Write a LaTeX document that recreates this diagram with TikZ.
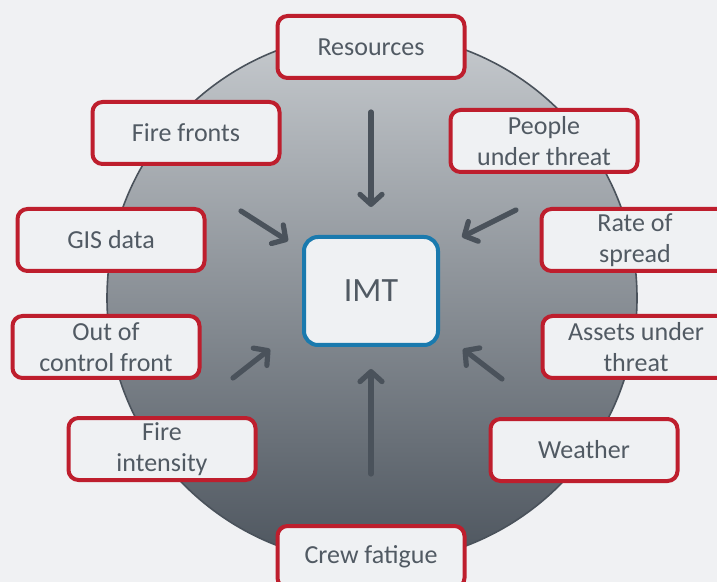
\documentclass[tikz,border=0pt]{standalone}
\usepackage{fontspec}
\setmainfont{Carlito}
\usepackage{tikz}
\usetikzlibrary{positioning}
\usetikzlibrary{arrows.meta}
\usetikzlibrary{calc}

\definecolor{pagegrey}{HTML}{F0F1F3}
\definecolor{boxfill}{HTML}{EFF1F3}
\definecolor{boxred}{HTML}{BE1E2D}
\definecolor{imtblue}{HTML}{1A7AAE}
\definecolor{textgrey}{HTML}{515A63}
\definecolor{arrowgrey}{HTML}{4A525B}
\definecolor{discTop}{HTML}{C6CACE}
\definecolor{discBottom}{HTML}{4D555E}

\tikzset{
  factor/.style={draw=boxred, line width=2pt, fill=boxfill, rounded corners=5pt,
    minimum width=93.5pt, minimum height=31pt, align=center, text=textgrey,
    font=\fontsize{13}{15.5}\selectfont, inner sep=1pt},
  imt/.style={draw=imtblue, line width=2pt, fill=boxfill, rounded corners=7pt,
    minimum width=67pt, minimum height=54pt, text=textgrey,
    font=\fontsize{17}{20}\selectfont},
  flow/.style={draw=arrowgrey, line width=2.6pt, line cap=round,
    -{Straight Barb[length=5pt,width=11pt,round]}}
}

\begin{document}
\begin{tikzpicture}[x=0.5pt, y=-0.5pt]
                  \useasboundingbox (0,0) rectangle (717,582);
                  \fill[pagegrey] (0,0) rectangle (717,582);
                  % the disc
                  \shade[top color=discTop, bottom color=discBottom] (372,298) circle [radius=132.5pt];
                  \draw[arrowgrey, line width=0.8pt] (372,298) circle [radius=132.5pt];
                  % centre
                  \node[imt] at (371,291) (imt) {IMT};
                  % factors round the disc
                  \node[factor] at (371,47) (res) {Resources};
                  \node[factor] at (186,133) (fronts) {Fire fronts};
                  \node[factor] at (544,141) (people) {People\\under threat};
                  \node[factor] at (111,240) (gis) {GIS data};
                  \node[factor] at (635,240) (spread) {Rate of\\spread};
                  \node[factor] at (106,347) (ooc) {Out of\\control front};
                  \node[factor] at (636,347) (assets) {Assets under\\threat};
                  \node[factor] at (162,449) (intens) {Fire\\intensity};
                  \node[factor] at (584,450) (weather) {Weather};
                  \node[factor] at (371,557) (crew) {Crew fatigue};
                  % arrow ends
                  \coordinate (topA) at (371,112);
                  \coordinate (topB) at (371,207);
                  \coordinate (botA) at (371,474);
                  \coordinate (botB) at (371,369);
                  \coordinate (ulA) at (241,211);
                  \coordinate (ulB) at (288,241);
                  \coordinate (urA) at (516,210);
                  \coordinate (urB) at (462,237);
                  \coordinate (llA) at (233,378);
                  \coordinate (llB) at (270,349);
                  \coordinate (lrA) at (502,379);
                  \coordinate (lrB) at (463,349);
                  \draw[flow] (topA) -- (topB);
                  \draw[flow] (botA) -- (botB);
                  \draw[flow] (ulA) -- (ulB);
                  \draw[flow] (urA) -- (urB);
                  \draw[flow] (llA) -- (llB);
                  \draw[flow] (lrA) -- (lrB);
              \end{tikzpicture}
\end{document}
